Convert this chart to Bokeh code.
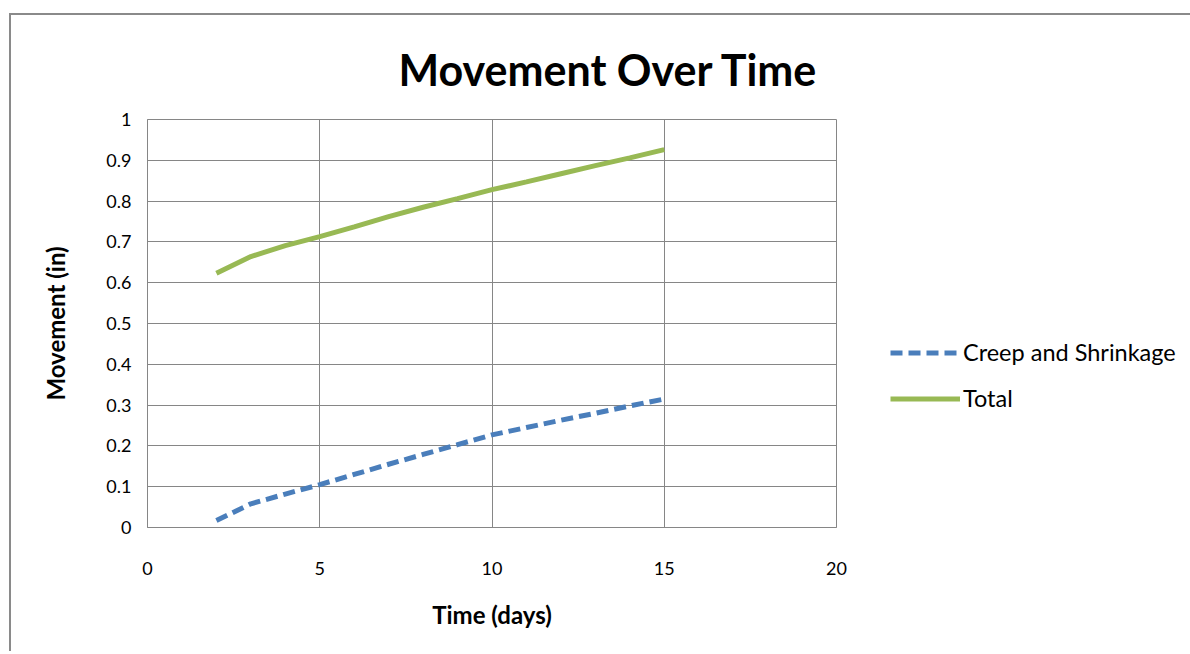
from bokeh.plotting import figure
from bokeh.models import Legend, LegendItem, NumeralTickFormatter, FixedTicker
from bokeh.embed import file_html
from bokeh.resources import INLINE

# ---- data ----
days = [2, 3, 4, 5, 6, 7, 8, 9, 10, 11, 12, 13, 14, 15]
creep_shrinkage = [0.017, 0.058, 0.082, 0.105, 0.130, 0.155, 0.179, 0.203, 0.227,
                   0.245, 0.263, 0.280, 0.298, 0.315]
total = [0.623, 0.664, 0.691, 0.713, 0.737, 0.762, 0.785, 0.806, 0.828,
         0.847, 0.867, 0.887, 0.906, 0.926]
x_ticks = [0, 5, 10, 15, 20]
y_ticks = [0, 0.1, 0.2, 0.3, 0.4, 0.5, 0.6, 0.7, 0.8, 0.9, 1]
series_names = ["Creep and Shrinkage", "Total"]

FONT = "Lato"
GRID = "#868686"

p = figure(frame_width=689, frame_height=408, output_backend="svg",
           toolbar_location=None, x_range=(0, 20), y_range=(0, 1),
           min_border_left=136, min_border_right=351, min_border_top=104,
           min_border_bottom=124)
p.margin = (13, 0, 0, 9)
p.styles = {"border-left": "2px solid #8a8a8a", "border-top": "2px solid #8a8a8a"}

p.title.text = "Movement Over Time"
p.title.align = "left"
p.title.offset = 251
p.title.text_font = FONT
p.title.text_font_size = "43px"
p.title.text_font_style = "bold"
p.title.text_color = "#000000"
p.title.standoff = 50

p.outline_line_color = GRID
p.outline_line_width = 1
p.background_fill_color = "white"
p.border_fill_color = "white"

p.xgrid.grid_line_color = GRID
p.ygrid.grid_line_color = GRID
p.xaxis.ticker = FixedTicker(ticks=x_ticks)
p.yaxis.ticker = FixedTicker(ticks=y_ticks)
p.yaxis.formatter = NumeralTickFormatter(format="0.[0]")

for ax in (p.xaxis[0], p.yaxis[0]):
    ax.axis_line_color = GRID
    ax.major_tick_line_color = None
    ax.minor_tick_line_color = None
    ax.major_label_text_font = FONT
    ax.major_label_text_font_size = "18px"
    ax.major_label_text_color = "#000000"
    ax.axis_label_text_font = FONT
    ax.axis_label_text_font_size = "24px"
    ax.axis_label_text_font_style = "bold"
    ax.axis_label_text_color = "#000000"

p.xaxis.axis_label = "Time (days)"
p.yaxis.axis_label = "Movement (in)"
p.xaxis.major_label_standoff = 28
p.xaxis.axis_label_standoff = 22
p.yaxis.major_label_standoff = 10
p.yaxis.axis_label_standoff = 33

r1 = p.line(days, creep_shrinkage, line_color="#4A7EBB", line_width=5,
            line_dash="12 6")
r2 = p.line(days, total, line_color="#98B954", line_width=5)

legend = Legend(items=[LegendItem(label=series_names[0], renderers=[r1]),
                       LegendItem(label=series_names[1], renderers=[r2])],
                location=(54, 115))
legend.glyph_width = 70
legend.glyph_height = 27
legend.label_height = 27
legend.label_standoff = 3
legend.spacing = 18
legend.padding = 0
legend.margin = 0
legend.border_line_color = None
legend.background_fill_alpha = 0
legend.label_text_font = FONT
legend.label_text_font_size = "23.5px"
legend.label_text_color = "#000000"
p.add_layout(legend, "right")

open("out.html", "w").write(file_html(p, INLINE))
